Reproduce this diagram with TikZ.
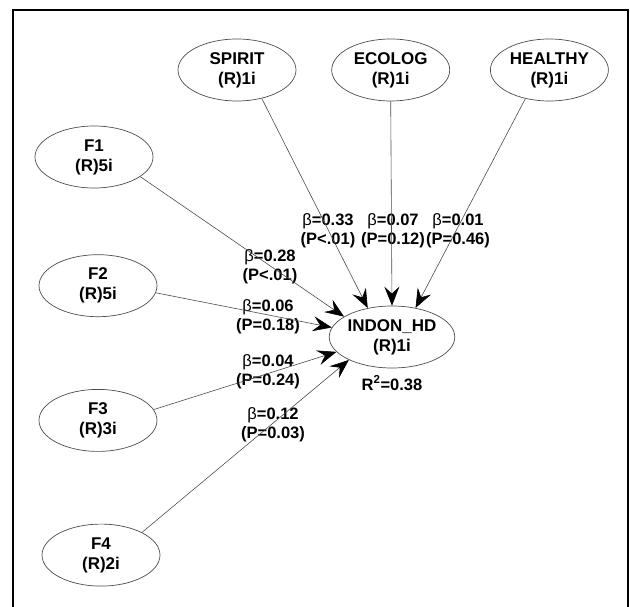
\documentclass[tikz,border=0pt]{standalone}
\usepackage{fontspec}
\setmainfont{Liberation Sans}
\usepackage{tikz}
\usetikzlibrary{shapes.geometric, arrows}
\usetikzlibrary {arrows.meta}
\usetikzlibrary{positioning}
\definecolor{edgegray}{gray}{0.3}
\tikzstyle{construct} = [ellipse, draw=edgegray, line width=0.7pt, minimum width=118pt, minimum height=62pt, inner sep=0pt, align=center, font=\fontsize{17}{20}\selectfont\bfseries]
\tikzstyle{coef} = [align=center, inner sep=0pt, font=\fontsize{16.5}{19}\selectfont\bfseries]
\tikzstyle{arrow} = [line width=0.6pt, edgegray, -{Stealth[length=19pt, width=15pt, inset=7pt, color=black]}]

\begin{document}
\begin{tikzpicture}[x=1pt, y=-1pt, node distance=30pt, auto]
    \useasboundingbox (0,0) rectangle (630,607);
    \draw [line width=2pt] (13,10) rectangle (628,625);
    % outcome
    \node (indon) [construct] at (392,337) {INDON\_HD\\(R)1i};
    % upper row
    \node (spirit) [construct] at (237,70) {SPIRIT\\(R)1i};
    \node (ecolog) [construct, right = 35pt of spirit] {ECOLOG\\(R)1i};
    \node (healthy) [construct, right = 40pt of ecolog] {HEALTHY\\(R)1i};
    % left column
    \node (f1) [construct] at (94,157) {F1\\(R)5i};
    \node (f2) [construct, below = 66pt of f1, xshift=4pt] {F2\\(R)5i};
    \node (f3) [construct, below = 72pt of f2] {F3\\(R)3i};
    \node (f4) [construct, below = 72pt of f3, xshift=3pt] {F4\\(R)2i};
    % path coefficients
    \node (c_spirit) [coef] at (328,231) {{\mdseries β}=0.33\\(P<.01)};
    \node (c_ecolog) [coef] at (393,231) {{\mdseries β}=0.07\\(P=0.12)};
    \node (c_healthy) [coef] at (458,231) {{\mdseries β}=0.01\\(P=0.46)};
    \node (c_f1) [coef] at (270,267) {{\mdseries β}=0.28\\(P<.01)};
    \node (c_f2) [coef] at (268,317) {{\mdseries β}=0.06\\(P=0.18)};
    \node (c_f3) [coef] at (268,372) {{\mdseries β}=0.04\\(P=0.24)};
    \node (c_f4) [coef] at (273,425) {{\mdseries β}=0.12\\(P=0.03)};
    \node (r2) [coef] at (392,383) {R\textsuperscript{2}=0.38};
    \draw [arrow] (spirit.-49) -- (indon.130);
    \draw [arrow] (ecolog.south) -- (indon.north);
    \draw [arrow] (healthy.230) -- (indon.51);
    \draw [arrow] (f1.-23) -- (indon.157);
    \draw [arrow] (f2.-7) -- (indon.171);
    \draw [arrow] (f3.11) -- (indon.195);
    \draw [arrow] (f4.29) -- (indon.208);
    \end{tikzpicture}
\end{document}
